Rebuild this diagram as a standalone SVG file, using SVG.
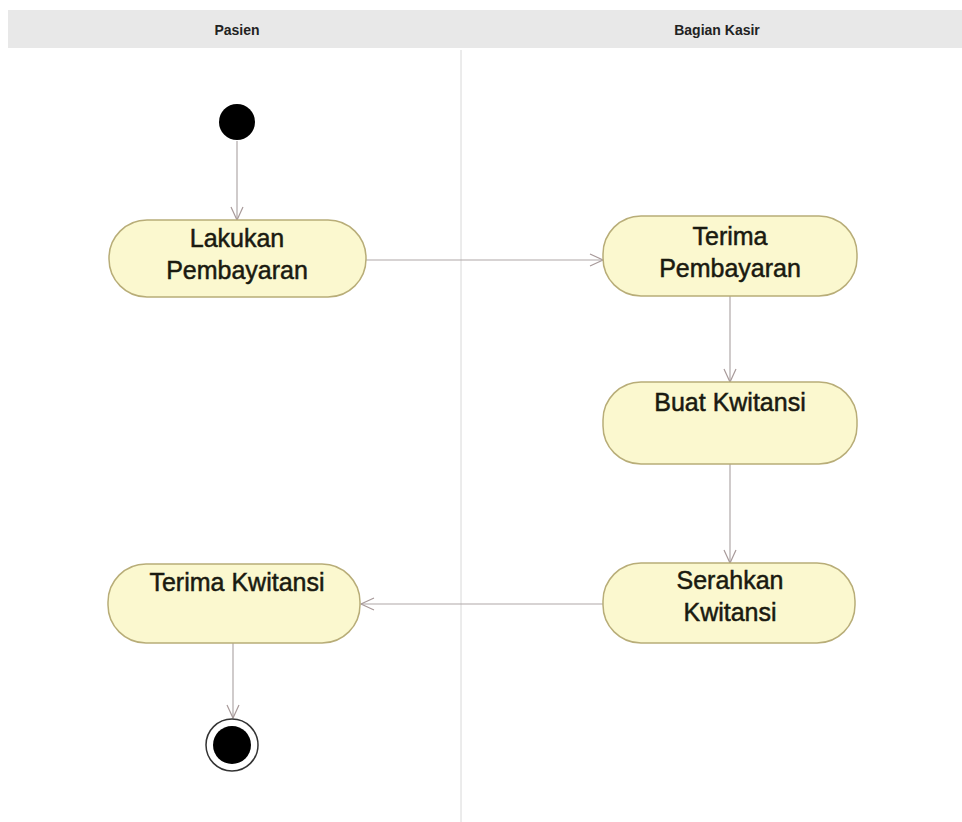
<svg xmlns="http://www.w3.org/2000/svg" width="962" height="822" viewBox="0 0 962 822">
<defs>
<marker id="arr" markerWidth="16" markerHeight="16" refX="14" refY="8" orient="auto" markerUnits="userSpaceOnUse">
<path d="M1,2 L14,8 L1,14" fill="none" stroke="#a89a9a" stroke-width="1.2"/>
</marker>
</defs>
<style>
.act{fill:#fbf8cf;stroke:#b8ad78;stroke-width:1.5}
.t{font-family:"Liberation Sans",Arial,sans-serif;font-size:25px;fill:#1a1a10;text-anchor:middle;stroke:#1a1a10;stroke-width:0.5}
.h{font-family:"Liberation Sans",Arial,sans-serif;font-size:14px;font-weight:bold;fill:#222;text-anchor:middle}
.c{fill:none;stroke:#b0a8a8;stroke-width:1.2;marker-end:url(#arr)}
</style>
<rect width="962" height="822" fill="#ffffff"/>
<rect x="8" y="10" width="954" height="38" fill="#e8e8e8"/>
<g id="lanes">
<text class="h" x="237" y="35">Pasien</text>
<text class="h" x="717" y="35">Bagian Kasir</text>
<line x1="461" y1="50" x2="461" y2="822" stroke="#d8d8d8" stroke-width="1"/>
</g>
<g id="connectors">
<line class="c" x1="237" y1="141" x2="237" y2="220"/>
<line class="c" x1="366" y1="260" x2="603" y2="260"/>
<line class="c" x1="730" y1="296" x2="730" y2="382"/>
<line class="c" x1="730" y1="464" x2="730" y2="563"/>
<line class="c" x1="603" y1="604" x2="361" y2="604"/>
<line class="c" x1="233" y1="643" x2="233" y2="718"/>
</g>
<g id="start"><circle cx="237" cy="122" r="18" fill="#000"/></g>
<g id="lakukan">
<rect class="act" x="109" y="220" width="257" height="77" rx="38" ry="38"/>
<text class="t" x="237" y="247">Lakukan</text>
<text class="t" x="237" y="279">Pembayaran</text>
</g>
<g id="terima-pembayaran">
<rect class="act" x="603" y="216" width="254" height="80" rx="38" ry="38"/>
<text class="t" x="730" y="245">Terima</text>
<text class="t" x="730" y="277">Pembayaran</text>
</g>
<g id="buat-kwitansi">
<rect class="act" x="603" y="382" width="254" height="82" rx="38" ry="38"/>
<text class="t" x="730" y="411">Buat Kwitansi</text>
</g>
<g id="serahkan-kwitansi">
<rect class="act" x="603" y="563" width="252" height="80" rx="38" ry="38"/>
<text class="t" x="730" y="589">Serahkan</text>
<text class="t" x="730" y="621">Kwitansi</text>
</g>
<g id="terima-kwitansi">
<rect class="act" x="108" y="564" width="252" height="79" rx="38" ry="38"/>
<text class="t" x="237" y="591">Terima Kwitansi</text>
</g>
<g id="end">
<circle cx="232" cy="745" r="26" fill="#fff" stroke="#333" stroke-width="1.5"/>
<circle cx="232" cy="745" r="19" fill="#000"/>
</g>
</svg>
